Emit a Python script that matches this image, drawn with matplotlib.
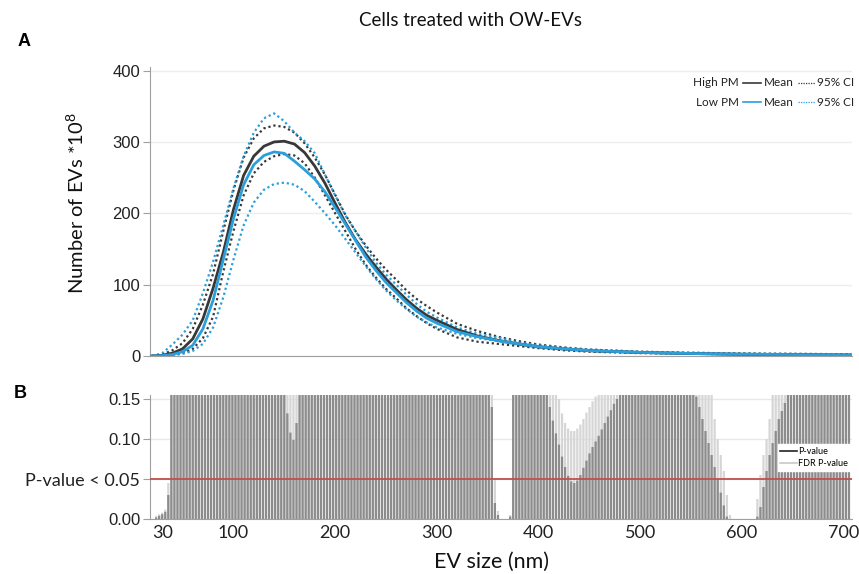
import matplotlib
matplotlib.use("Agg")
import matplotlib.pyplot as plt
import numpy as np
from matplotlib.lines import Line2D

plt.rcParams['mathtext.fontset'] = 'custom'
plt.rcParams['mathtext.rm'] = 'Lato'
plt.rcParams['mathtext.it'] = 'Lato:italic'

# ---------------- Panel A data (EV size in nm, counts *10^8) ----------------
curve_size = [20, 30, 40, 50, 60, 70, 80, 90, 100, 110, 120, 130, 140, 150, 160, 170,
              180, 190, 200, 210, 220, 230, 240, 250, 260, 270, 280, 290, 300, 320, 340,
              360, 380, 400, 425, 450, 500, 550, 600, 650, 700, 707]
high_mean = [0, 1, 4, 10, 24, 52, 95, 145, 205, 253, 280, 294, 300, 301, 297, 285,
             266, 242, 214, 187, 163, 143, 125, 108, 93, 79, 67, 57, 50, 37, 28,
             22, 17, 13, 10, 7.5, 5, 3.5, 2.5, 2, 1.5, 1.5]
high_upper = [0, 2, 8, 18, 38, 72, 115, 175, 232, 278, 305, 319, 323, 321, 313, 298,
              278, 254, 226, 198, 175, 155, 137, 121, 107, 92, 80, 70, 61, 45, 35,
              27, 21, 16, 12, 9, 6, 4.5, 3.5, 3, 2.5, 2.5]
high_lower = [0, 0.5, 1.5, 4, 10, 25, 55, 118, 175, 225, 256, 272, 280, 283, 281, 270,
              250, 225, 200, 175, 150, 128, 110, 94, 81, 67, 56, 46, 38, 26, 20,
              17, 14, 11, 8, 6, 4, 3, 2, 1.5, 1, 1]
low_mean = [0, 0.5, 2, 6, 15, 38, 78, 135, 192, 240, 268, 281, 286, 284, 273, 261,
            248, 230, 208, 185, 162, 139, 120, 103, 89, 75, 63, 53, 46, 34, 27,
            21.5, 17, 13, 10, 7.5, 5, 3.5, 2.5, 2, 1.5, 1.5]
low_upper = [0, 4, 16, 30, 50, 88, 132, 183, 235, 280, 313, 333, 340, 329, 313, 301,
             284, 254, 225, 197, 175, 152, 131, 114, 100, 86, 73, 62, 54, 40, 31,
             26, 19, 15, 11, 9, 6, 4.5, 3.5, 3, 2.5, 2.5]
low_lower = [0, 0.3, 1, 3, 7, 17, 40, 82, 135, 183, 215, 233, 241, 243, 240, 231,
             216, 200, 183, 164, 145, 126, 108, 92, 78, 66, 55, 47, 40, 31, 25,
             21, 16, 12, 9, 7, 4.5, 3, 2, 1.5, 1, 1]

# ---------------- Panel B data (bars every 3 nm from 21 to 705) ----------------
bar_size = np.arange(21, 706, 3)
p_value = [
    0.0, 0.002, 0.004, 0.006, 0.009, 0.030,
    0.5, 0.5, 0.5, 0.5, 0.5, 0.5, 0.5, 0.5, 0.5, 0.5,
    0.5, 0.5, 0.5, 0.5, 0.5, 0.5, 0.5, 0.5, 0.5, 0.5,
    0.5, 0.5, 0.5, 0.5, 0.5, 0.5, 0.5, 0.5, 0.5, 0.5,
    0.5, 0.5, 0.5, 0.5, 0.5, 0.5, 0.5,
    0.16, 0.132, 0.108, 0.099, 0.12,
    0.5, 0.5, 0.5, 0.5, 0.5, 0.5, 0.5, 0.5, 0.5, 0.5,
    0.5, 0.5, 0.5, 0.5, 0.5, 0.5, 0.5, 0.5, 0.5, 0.5,
    0.5, 0.5, 0.5, 0.5, 0.5, 0.5, 0.5, 0.5, 0.5, 0.5,
    0.5, 0.5, 0.5, 0.5, 0.5, 0.5, 0.5, 0.5, 0.5, 0.5,
    0.5, 0.5, 0.5, 0.5, 0.5, 0.5, 0.5, 0.5, 0.5, 0.5,
    0.5, 0.5, 0.5, 0.5, 0.5, 0.5, 0.5, 0.5, 0.5, 0.5,
    0.5, 0.5, 0.5,
    0.14, 0.02, 0.005, 0.0, 0.0, 0.0, 0.003,
    0.5, 0.5, 0.5, 0.5, 0.5, 0.5, 0.5, 0.5, 0.5, 0.5,
    0.5,
    0.16, 0.14, 0.123, 0.107, 0.093, 0.078, 0.065, 0.054, 0.047, 0.045,
    0.048, 0.055, 0.064, 0.073, 0.082, 0.09, 0.097, 0.104, 0.112, 0.12,
    0.128, 0.136, 0.144, 0.15,
    0.5, 0.5, 0.5, 0.5, 0.5, 0.5, 0.5, 0.5, 0.5, 0.5,
    0.5, 0.5, 0.5, 0.5, 0.5, 0.5, 0.5, 0.5, 0.5, 0.5,
    0.5, 0.5, 0.5, 0.5, 0.5,
    0.153, 0.14, 0.125, 0.11, 0.095, 0.08, 0.065, 0.05, 0.033, 0.017,
    0.003, 0.0, 0.0, 0.0, 0.0, 0.0, 0.0, 0.0, 0.0, 0.0,
    0.003, 0.015, 0.04, 0.06, 0.08, 0.095, 0.11, 0.125, 0.135, 0.145,
    0.5, 0.5, 0.5, 0.5, 0.5, 0.5, 0.5, 0.5, 0.5, 0.5,
    0.5, 0.5, 0.5, 0.5, 0.5, 0.5, 0.5, 0.5, 0.5, 0.5, 0.5,
]
fdr_p_value = [
    0.0, 0.004, 0.006, 0.008, 0.012, 0.045,
    0.6, 0.6, 0.6, 0.6, 0.6, 0.6, 0.6, 0.6, 0.6, 0.6,
    0.6, 0.6, 0.6, 0.6, 0.6, 0.6, 0.6, 0.6, 0.6, 0.6,
    0.6, 0.6, 0.6, 0.6, 0.6, 0.6, 0.6, 0.6, 0.6, 0.6,
    0.6, 0.6, 0.6, 0.6, 0.6, 0.6, 0.6,
    0.6, 0.6, 0.6, 0.6, 0.6,
    0.6, 0.6, 0.6, 0.6, 0.6, 0.6, 0.6, 0.6, 0.6, 0.6,
    0.6, 0.6, 0.6, 0.6, 0.6, 0.6, 0.6, 0.6, 0.6, 0.6,
    0.6, 0.6, 0.6, 0.6, 0.6, 0.6, 0.6, 0.6, 0.6, 0.6,
    0.6, 0.6, 0.6, 0.6, 0.6, 0.6, 0.6, 0.6, 0.6, 0.6,
    0.6, 0.6, 0.6, 0.6, 0.6, 0.6, 0.6, 0.6, 0.6, 0.6,
    0.6, 0.6, 0.6, 0.6, 0.6, 0.6, 0.6, 0.6, 0.6, 0.6,
    0.6, 0.6, 0.6,
    0.3, 0.05, 0.01, 0.0, 0.0, 0.0, 0.005,
    0.6, 0.6, 0.6, 0.6, 0.6, 0.6, 0.6, 0.6, 0.6, 0.6,
    0.6,
    0.6, 0.6, 0.6, 0.17, 0.15, 0.132, 0.12, 0.113, 0.11, 0.11,
    0.113, 0.118, 0.125, 0.133, 0.14, 0.147, 0.153, 0.16, 0.6, 0.6,
    0.6, 0.6, 0.6, 0.6,
    0.6, 0.6, 0.6, 0.6, 0.6, 0.6, 0.6, 0.6, 0.6, 0.6,
    0.6, 0.6, 0.6, 0.6, 0.6, 0.6, 0.6, 0.6, 0.6, 0.6,
    0.6, 0.6, 0.6, 0.6, 0.6,
    0.6, 0.6, 0.6, 0.6, 0.18, 0.155, 0.125, 0.10, 0.08, 0.06,
    0.03, 0.005, 0.0, 0.0, 0.0, 0.0, 0.0, 0.0, 0.0, 0.0,
    0.025, 0.055, 0.08, 0.10, 0.125, 0.155, 0.18, 0.6, 0.6, 0.6,
    0.6, 0.6, 0.6, 0.6, 0.6, 0.6, 0.6, 0.6, 0.6, 0.6,
    0.6, 0.6, 0.6, 0.6, 0.6, 0.6, 0.6, 0.6, 0.6, 0.6, 0.6,
]
assert len(p_value) == len(bar_size) == len(fdr_p_value), (len(p_value), len(fdr_p_value), len(bar_size))

x_ticks = [30, 100, 200, 300, 400, 500, 600, 700]
a_yticks = [0, 100, 200, 300, 400]
b_yticks = [0.0, 0.05, 0.10, 0.15]
b_yticklabels = ['0.00', 'P-value < 0.05', '0.10', '0.15']

# ---------------- layout ----------------
W, H = 859, 574
fig = plt.figure(figsize=(W / 100, H / 100), dpi=100)


def fx(px):
    return px / W


def fy(py):
    return 1 - py / H


BLACK = '#383838'
BLUE = '#2a9fdc'
AX_GRAY = '#a0a0a0'
XMIN, XMAX = 18, 708
CAL = 'Lato'
ARI = 'Liberation Sans'

axA = fig.add_axes([fx(150), fy(356), fx(852) - fx(150), fy(67) - fy(356)])
axB = fig.add_axes([fx(150), fy(519), fx(852) - fx(150), fy(395) - fy(519)])

# ---- Panel A ----
axA.set_xlim(XMIN, XMAX)
axA.set_ylim(0, 405)
axA.plot(curve_size, high_upper, color=BLACK, lw=1.6, ls=(0, (1, 1.3)), zorder=3)
axA.plot(curve_size, high_lower, color=BLACK, lw=1.6, ls=(0, (1, 1.3)), zorder=3)
axA.plot(curve_size, low_upper, color=BLUE, lw=1.6, ls=(0, (1, 1.3)), zorder=3)
axA.plot(curve_size, low_lower, color=BLUE, lw=1.6, ls=(0, (1, 1.3)), zorder=3)
axA.plot(curve_size, high_mean, color=BLACK, lw=2.0, zorder=4)
axA.plot(curve_size, low_mean, color=BLUE, lw=2.0, zorder=4)

for s in ['top', 'right']:
    axA.spines[s].set_visible(False)
axA.spines['left'].set_color(AX_GRAY)
axA.spines['bottom'].set_color(AX_GRAY)
axA.set_xticks([])
axA.set_yticks(a_yticks)
axA.set_yticklabels([str(v) for v in a_yticks], fontsize=12, family=ARI, color='#222222')
axA.tick_params(axis='y', length=5, color=AX_GRAY, pad=2)
axA.yaxis.grid(True, color='#ededed', lw=1)
axA.set_axisbelow(True)

fig.text(fx(76), fy(203), 'Number of EVs *10$^{8}$', rotation=90, ha='center', va='center',
         fontsize=14.5, family=CAL, color='#111111')

# legend for panel A
for yrow, name, col in [(83, 'High PM', BLACK), (102, 'Low PM', BLUE)]:
    fig.text(fx(739), fy(yrow), name, ha='right', va='center', fontsize=8.5, family=CAL, color='#222222')
    fig.add_artist(Line2D([fx(743), fx(761)], [fy(yrow), fy(yrow)], transform=fig.transFigure,
                          color=col, lw=1.2))
    fig.text(fx(764), fy(yrow), 'Mean', ha='left', va='center', fontsize=8.5, family=CAL, color='#222222')
    fig.add_artist(Line2D([fx(798), fx(815)], [fy(yrow), fy(yrow)], transform=fig.transFigure,
                          color=col, lw=0.9, ls=(0, (1, 1))))
    fig.text(fx(817), fy(yrow), '95% CI', ha='left', va='center', fontsize=8.5, family=CAL, color='#222222')

# ---- Panel B ----
axB.set_xlim(XMIN, XMAX)
axB.set_ylim(0, 0.155)
fdr_bars = axB.bar(bar_size, fdr_p_value, width=2.2, color='#d6d6d6', linewidth=0, zorder=2)
p_bars = axB.bar(bar_size, p_value, width=2.2, color='#8c8c8c', linewidth=0, zorder=2.5)
for b in list(fdr_bars) + list(p_bars):
    b.set_snap(False)
axB.axhline(0.05, color='#c0504d', lw=1.3, zorder=4)

for s in ['top', 'right']:
    axB.spines[s].set_visible(False)
axB.spines['left'].set_color(AX_GRAY)
axB.spines['bottom'].set_color(AX_GRAY)
axB.set_yticks(b_yticks)
axB.set_yticklabels(b_yticklabels, fontsize=12, family=ARI, color='#222222')
axB.get_yticklabels()[1].set_family(CAL)
axB.get_yticklabels()[1].set_fontsize(13)
axB.tick_params(axis='y', length=5, color=AX_GRAY, pad=2)
axB.set_xticks(x_ticks)
axB.set_xticklabels([str(v) for v in x_ticks], fontsize=13, family=CAL, color='#222222')
axB.tick_params(axis='x', length=0, pad=4)
axB.yaxis.grid(True, color='#e8e8e8', lw=1)
axB.set_axisbelow(True)

leg = axB.legend(handles=[Line2D([], [], color='#222222', lw=1.2, label='P-value'),
                          Line2D([], [], color='#c8c8c8', lw=1.2, label='FDR P-value')],
                 loc='upper right', bbox_to_anchor=(fx(851), fy(444)), bbox_transform=fig.transFigure,
                 prop={'family': CAL, 'size': 6.5}, frameon=True, facecolor='white', edgecolor='white',
                 framealpha=1, handlelength=1.8, handletextpad=0.2, borderpad=0.3, labelspacing=0.35,
                 fancybox=False, borderaxespad=0)
leg.set_zorder(6)

fig.text(fx(492), fy(562), 'EV size (nm)', ha='center', va='center', fontsize=15.5, family=CAL, color='#111111')

# ---- titles and panel letters ----
fig.text(fx(470), fy(21), 'Cells treated with OW-EVs', ha='center', va='center', fontsize=13.5,
         family=CAL, color='#111111')
fig.text(fx(18), fy(42), 'A', ha='left', va='center', fontsize=13, weight='bold', family=ARI)
fig.text(fx(14), fy(393), 'B', ha='left', va='center', fontsize=13, weight='bold', family=ARI)

fig.savefig('out.png', dpi=100)
